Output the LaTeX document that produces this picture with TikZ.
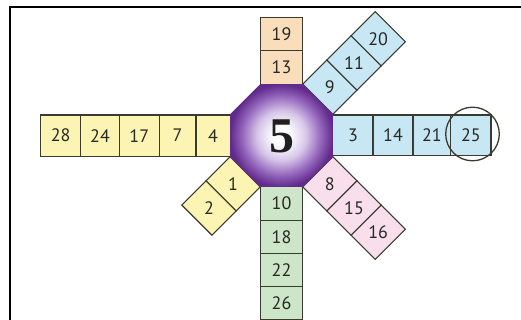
\documentclass[tikz,border=0pt]{standalone}
\usepackage{fontspec}
\setmainfont{PT Sans}
\newfontfamily\bigserif{Liberation Serif}
\definecolor{cyel}{RGB}{252,244,178}
\definecolor{cpeach}{RGB}{250,221,186}
\definecolor{cblue}{RGB}{199,231,245}
\definecolor{cpink}{RGB}{249,223,236}
\definecolor{cgreen}{RGB}{205,229,200}
\definecolor{cellline}{RGB}{58,58,48}
\definecolor{txt}{RGB}{40,40,35}
\definecolor{pdark}{RGB}{98,42,140}
\definecolor{pmid}{RGB}{150,105,190}
\definecolor{plight}{RGB}{215,198,232}
\pgfdeclareradialshading{octshade}{\pgfpoint{0bp}{0bp}}{color(0bp)=(white); color(5bp)=(white!90!plight); color(12bp)=(plight); color(19bp)=(pmid); color(25bp)=(pdark); color(50bp)=(pdark)}
\newcommand\armcells[5]{% name, angle, colour, cell length, labels
  \begin{scope}[shift={(C)}, rotate=#2]
    \foreach \t [count=\k from 0] in {#5} {
      \draw[cell, fill=#3] ({51.3+#4*\k},-21.25) rectangle ({51.3+#4*(\k+1)},21.25);
      \node[lbl] (#1\k) at ({51.3+#4*(\k+0.5)},0) {\t};
    }
  \end{scope}}
\begin{document}
\begin{tikzpicture}[x=1pt,y=1pt,
  cell/.style={draw=cellline, line width=1.1pt},
  lbl/.style={text=txt, font=\fontsize{18}{18}\selectfont, inner sep=0pt},
  ring/.style={draw=cellline, line width=1.3pt}]
\useasboundingbox (0,0) rectangle (521,320);
\coordinate (C) at (281.5,184.5);
% frame
\draw[line width=2pt] (10,0) -- (10,313) -- (521,313);
% left row
\foreach \xa/\xb/\t [count=\i] in {40.7/80.7/28, 80.7/119.3/24, 119.3/159.3/17, 159.3/196/7, 196/230.2/4} {
  \draw[cell, fill=cyel] (\xa,163.5) rectangle (\xb,205);
  \node[lbl] (L\i) at ({(\xa+\xb)/2},184.3) {\t};
}
% right row
\foreach \xa/\xb/\t [count=\i] in {332.8/373/3, 373/413/14, 413/450.7/21, 450.7/491/25} {
  \draw[cell, fill=cblue] (\xa,164.5) rectangle (\xb,205);
  \node[lbl] (R\i) at ({(\xa+\xb)/2},184.8) {\t};
}
% arms
\armcells{N}{90}{cpeach}{33.3}{13,19}
\armcells{S}{270}{cgreen}{33.3}{10,18,22,26}
\armcells{NE}{45}{cblue}{34.2}{9,11,20}
\armcells{SE}{-45}{cpink}{34.2}{8,15,16}
\armcells{SW}{225}{cyel}{34.2}{1,2}
% octagon
\begin{scope}[shift={(C)}]
  \shade[shading=octshade] (22.5:55.5) -- (67.5:55.5) -- (112.5:55.5) -- (157.5:55.5) -- (202.5:55.5) -- (247.5:55.5) -- (292.5:55.5) -- (337.5:55.5) -- cycle;
\end{scope}
\node[font=\bigserif\bfseries\fontsize{50}{50}\selectfont, text=black!88, inner sep=0pt] (five) at (282,184) {5};
% circle round 25
\draw[ring] (472.5,186) circle (26.8);
\end{tikzpicture}
\end{document}
